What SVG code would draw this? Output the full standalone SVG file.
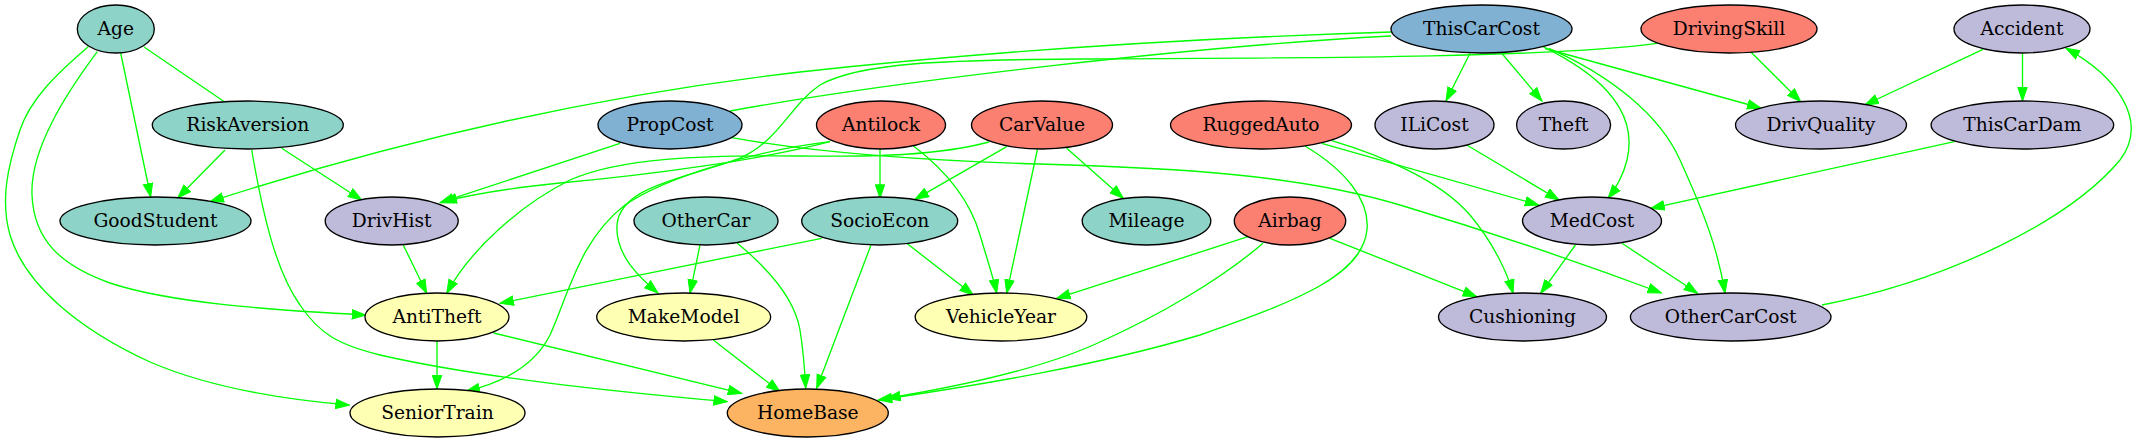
<svg xmlns="http://www.w3.org/2000/svg" width="2139" height="443" viewBox="0 0 2139 443">
<style>
.n ellipse{stroke:#000;stroke-width:1.33}
.n text{font-family:"DejaVu Serif",serif;font-size:18.67px;text-anchor:middle;fill:#000}
.t ellipse{fill:#8dd3c7}.b ellipse{fill:#80b1d3}.r ellipse{fill:#fb8072}.p ellipse{fill:#bebada}.y ellipse{fill:#ffffb3}.o ellipse{fill:#fdb462}
#edges path{fill:none;stroke:#00ff00;stroke-width:1.33}
#edges path.a{marker-end:url(#ah)}
</style>
<defs>
<marker id="ah" markerUnits="userSpaceOnUse" markerWidth="15" markerHeight="11" viewBox="0 0 15 11" refX="14" refY="5.5" orient="auto">
<path d="M0.5,0.8 L14,5.5 L0.5,10.2 z" fill="#00ff00" stroke="#00ff00" stroke-width="1"/>
</marker>
</defs>
<rect width="2139" height="443" fill="#fff"/>
<g id="edges">
<path class="a" d="M120.7,53 L150.7,197"/>
<path d="M144,47 L224,101.5"/>
<path class="a" d="M97.3,51.7 C65,95 30,150 32,195 C34,240 60,265 110,283 C170,303 270,310 365.7,315"/>
<path class="a" d="M88.3,46.7 C55,75 30,100 20,130 C8,165 0,200 10,235 C25,285 80,330 150,362 C215,390 290,400 349.3,405"/>
<path class="a" d="M225,150 L177.7,198"/>
<path class="a" d="M281.7,148.3 L361.7,200"/>
<path class="a" d="M251.7,150 C262,210 275,270 300,305 C320,335 340,345 380,355 C480,378 620,392 727.3,401.7"/>
<path class="a" d="M1391,32 C1200,38 1000,50 800,72 C600,95 400,140 210,201.7"/>
<path d="M1391,36 C1200,46 900,80 730,111"/>
<path class="a" d="M1470,53.3 L1446,101"/>
<path class="a" d="M1501.7,53.3 L1542,101"/>
<path class="a" d="M1545,48.5 L1761,108"/>
<path class="a" d="M1543,46.7 C1590,70 1640,105 1627,160 C1622,180 1613,192 1608,198.3"/>
<path class="a" d="M1549,48.3 C1610,75 1660,115 1680,160 C1705,215 1718,250 1725,293.3"/>
<path class="a" d="M1657,43.3 C1550,58 1300,58 1076,59 C950,60 860,62 820,85 C790,105 780,140 740,158 C690,178 620,185 617,225 C615,255 640,278 658,293"/>
<path class="a" d="M1750.6,51.7 L1800.7,101.7"/>
<path class="a" d="M1983,49.3 L1864.7,105"/>
<path class="a" d="M2022.5,53.3 L2022.5,101"/>
<path class="a" d="M1954.4,141.7 L1650.8,208.3"/>
<path class="a" d="M1466.7,145 L1559,200"/>
<path class="a" d="M1321.7,143.3 L1538.7,205"/>
<path class="a" d="M1331.7,140.7 C1380,155 1440,180 1470,215 C1495,245 1508,275 1513,293.3"/>
<path class="a" d="M1305,146 C1345,170 1370,200 1367,230 C1362,275 1300,300 1200,335 C1100,365 980,385 878.3,400"/>
<path class="a" d="M1263,243.3 C1220,280 1160,315 1100,342 C1040,370 950,388 886.7,398.3"/>
<path class="a" d="M1248,236.7 L1056.7,298.3"/>
<path class="a" d="M1330,238.3 L1476.7,296.7"/>
<path class="a" d="M1575.4,245 L1540.7,293.3"/>
<path class="a" d="M1622,243.3 L1697.6,293.3"/>
<path class="a" d="M1822,305 C1950,280 2070,220 2120,160 C2150,120 2115,75 2066,48.3"/>
<path class="a" d="M1066.7,148.3 L1123.3,198.3"/>
<path class="a" d="M1006.7,146.7 L915,199.3"/>
<path class="a" d="M1037.5,149 L1006.7,293.3"/>
<path class="a" d="M989,142 C940,155 880,157 800,156 C700,155 620,158 570,180 C520,205 470,250 446.7,293.3"/>
<path class="a" d="M880,149 L880,198.3"/>
<path class="a" d="M913.5,146 C945,170 970,200 980,235 C988,262 994,280 996.7,293.3"/>
<path class="a" d="M830,141.7 C760,160 650,175 560,183 C510,188 470,195 443,201.7"/>
<path class="a" d="M830,141.7 C760,150 670,175 625,205 C580,240 570,290 550,335 C535,365 505,382 466,391.3"/>
<path class="a" d="M620,143.3 L440,202.7"/>
<path class="a" d="M731.7,137.7 C800,150 900,160 1040,164 C1180,168 1300,175 1400,205 C1500,235 1600,270 1661.5,293"/>
<path class="a" d="M403.3,245 L426.7,293.3"/>
<path class="a" d="M700,245 L690,293.3"/>
<path class="a" d="M736.7,242.7 C770,270 795,300 800,330 C804,355 805,375 805.7,388.3"/>
<path class="a" d="M871,245 L816.7,388.3"/>
<path class="a" d="M906.7,243.3 L973.3,295"/>
<path class="a" d="M821.7,238.3 L500,303.3"/>
<path class="a" d="M713.3,340 L780,391.7"/>
<path class="a" d="M437,341 L437,389"/>
<path class="a" d="M493.6,333 L741.7,393.3"/>
</g>
<g id="Age" class="n t"><ellipse cx="115.8" cy="29" rx="38.5" ry="24"/><text x="115.8" y="35">Age</text></g>
<g id="ThisCarCost" class="n b"><ellipse cx="1481.5" cy="29" rx="90.5" ry="24"/><text x="1481.5" y="35">ThisCarCost</text></g>
<g id="DrivingSkill" class="n r"><ellipse cx="1729" cy="29" rx="88" ry="24"/><text x="1729" y="35">DrivingSkill</text></g>
<g id="Accident" class="n p"><ellipse cx="2022" cy="29" rx="68" ry="24"/><text x="2022" y="35">Accident</text></g>
<g id="RiskAversion" class="n t"><ellipse cx="247.8" cy="125" rx="95.5" ry="24"/><text x="247.8" y="131">RiskAversion</text></g>
<g id="PropCost" class="n b"><ellipse cx="670" cy="125" rx="72" ry="24"/><text x="670" y="131">PropCost</text></g>
<g id="Antilock" class="n r"><ellipse cx="881" cy="125" rx="64.5" ry="24"/><text x="881" y="131">Antilock</text></g>
<g id="CarValue" class="n r"><ellipse cx="1042" cy="125" rx="70.5" ry="24"/><text x="1042" y="131">CarValue</text></g>
<g id="RuggedAuto" class="n r"><ellipse cx="1261" cy="125" rx="90.5" ry="24"/><text x="1261" y="131">RuggedAuto</text></g>
<g id="ILiCost" class="n p"><ellipse cx="1434.5" cy="125" rx="59.5" ry="24"/><text x="1434.5" y="131">ILiCost</text></g>
<g id="Theft" class="n p"><ellipse cx="1563.6" cy="125" rx="47" ry="24"/><text x="1563.6" y="131">Theft</text></g>
<g id="DrivQuality" class="n p"><ellipse cx="1821" cy="125" rx="85.5" ry="24"/><text x="1821" y="131">DrivQuality</text></g>
<g id="ThisCarDam" class="n p"><ellipse cx="2022.4" cy="125" rx="91.3" ry="24"/><text x="2022.4" y="131">ThisCarDam</text></g>
<g id="GoodStudent" class="n t"><ellipse cx="155.5" cy="221" rx="95.5" ry="24"/><text x="155.5" y="227">GoodStudent</text></g>
<g id="DrivHist" class="n p"><ellipse cx="391.7" cy="221" rx="66.5" ry="24"/><text x="391.7" y="227">DrivHist</text></g>
<g id="OtherCar" class="n t"><ellipse cx="706" cy="221" rx="72" ry="24"/><text x="706" y="227">OtherCar</text></g>
<g id="SocioEcon" class="n t"><ellipse cx="879.7" cy="221" rx="78" ry="24"/><text x="879.7" y="227">SocioEcon</text></g>
<g id="Mileage" class="n t"><ellipse cx="1146.5" cy="221" rx="64.3" ry="24"/><text x="1146.5" y="227">Mileage</text></g>
<g id="Airbag" class="n r"><ellipse cx="1290" cy="221" rx="55.7" ry="24"/><text x="1290" y="227">Airbag</text></g>
<g id="MedCost" class="n p"><ellipse cx="1592" cy="221" rx="69.5" ry="24"/><text x="1592" y="227">MedCost</text></g>
<g id="AntiTheft" class="n y"><ellipse cx="437" cy="317" rx="72" ry="24"/><text x="437" y="323">AntiTheft</text></g>
<g id="MakeModel" class="n y"><ellipse cx="683.7" cy="317" rx="87" ry="24"/><text x="683.7" y="323">MakeModel</text></g>
<g id="VehicleYear" class="n y"><ellipse cx="1001" cy="317" rx="85.8" ry="24"/><text x="1001" y="323">VehicleYear</text></g>
<g id="Cushioning" class="n p"><ellipse cx="1522.5" cy="317" rx="84" ry="24"/><text x="1522.5" y="323">Cushioning</text></g>
<g id="OtherCarCost" class="n p"><ellipse cx="1730.7" cy="317" rx="100.3" ry="24"/><text x="1730.7" y="323">OtherCarCost</text></g>
<g id="SeniorTrain" class="n y"><ellipse cx="437.5" cy="413" rx="87.5" ry="24"/><text x="437.5" y="419">SeniorTrain</text></g>
<g id="HomeBase" class="n o"><ellipse cx="807.8" cy="413" rx="80.5" ry="24"/><text x="807.8" y="419">HomeBase</text></g>
</svg>
